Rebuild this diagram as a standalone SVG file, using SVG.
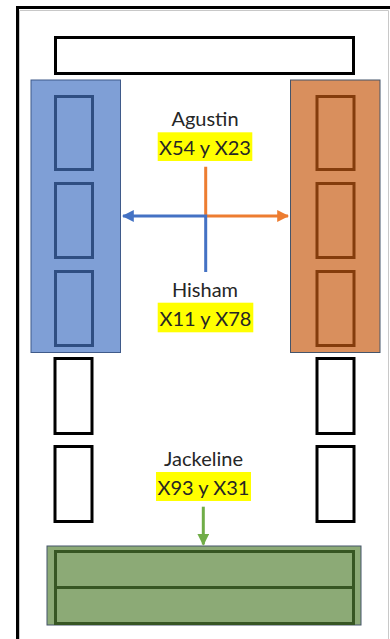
<svg xmlns="http://www.w3.org/2000/svg" width="390" height="639" viewBox="0 0 390 639">
<defs>
<style>
.blk{fill:#fff;stroke:#000;stroke-width:3}
.lbl{font-family:Lato,"Liberation Sans",Arial,sans-serif;font-size:20px;fill:#262626;text-anchor:middle}
.hl{fill:#ffff00}
.inb{fill:none;stroke:#2f4e82;stroke-width:3}
.ino{fill:none;stroke:#843c0c;stroke-width:3}
.ing{fill:none;stroke:#375623;stroke-width:3}
.conn{fill:none;stroke-width:3}
</style>
<marker id="ab" viewBox="0 0 10 10" refX="9" refY="5" markerWidth="4" markerHeight="4" orient="auto"><path d="M0,0L10,5L0,10z" fill="#4472c4"/></marker>
<marker id="ao" viewBox="0 0 10 10" refX="9" refY="5" markerWidth="4" markerHeight="4" orient="auto"><path d="M0,0L10,5L0,10z" fill="#ed7d31"/></marker>
<marker id="ag" viewBox="0 0 10 10" refX="9" refY="5" markerWidth="4" markerHeight="4" orient="auto"><path d="M0,0L10,5L0,10z" fill="#70ad47"/></marker>
</defs>
<rect width="390" height="639" fill="#fff"/>
<g id="frame">
<path d="M19.5,10.5H388.5V639M19.5,10.5V639" fill="none" stroke="#c8c8c8" stroke-width="1"/>
<path d="M17.5,639V7.5H390" fill="none" stroke="#000" stroke-width="3"/>
</g>
<g id="top-bar"><rect class="blk" x="55.5" y="37.5" width="298" height="36"/></g>
<g id="blue-block">
<rect x="31" y="80" width="89.5" height="272.5" fill="#7f9fd6" stroke="#3f5a8a" stroke-width="1"/>
<rect class="inb" x="55.5" y="96.5" width="37" height="73"/>
<rect class="inb" x="55.5" y="183.5" width="37" height="74"/>
<rect class="inb" x="55.5" y="271.5" width="37" height="74"/>
</g>
<g id="orange-block">
<rect x="290.5" y="80" width="89.5" height="272.5" fill="#d98f5d" stroke="#44546a" stroke-width="1"/>
<rect class="ino" x="317" y="96.5" width="37" height="73"/>
<rect class="ino" x="317" y="183.5" width="37" height="74"/>
<rect class="ino" x="317" y="271.5" width="37" height="74"/>
</g>
<g id="left-boxes">
<rect class="blk" x="55" y="358.5" width="37" height="75"/>
<rect class="blk" x="55" y="446.5" width="37" height="75"/>
</g>
<g id="right-boxes">
<rect class="blk" x="317" y="358.5" width="37" height="75"/>
<rect class="blk" x="317" y="446.5" width="37" height="75"/>
</g>
<g id="green-block">
<rect x="47" y="546" width="314" height="79" fill="#8caa76" stroke="#44546a" stroke-width="1"/>
<rect class="ing" x="55.5" y="551.5" width="298" height="36"/>
<rect class="ing" x="55.5" y="587.5" width="298" height="36"/>
</g>
<g id="label-agustin">
<text class="lbl" x="205" y="126">Agustin</text>
<rect class="hl" x="157.7" y="132.3" width="94.6" height="28.7"/>
<text class="lbl" x="205" y="155">X54 y X23</text>
</g>
<g id="label-hisham">
<text class="lbl" x="205" y="297">Hisham</text>
<rect class="hl" x="157.7" y="302.7" width="95.6" height="29.6"/>
<text class="lbl" x="205.5" y="326">X11 y X78</text>
</g>
<g id="label-jackeline">
<text class="lbl" x="203.5" y="466">Jackeline</text>
<rect class="hl" x="156" y="472" width="95" height="29"/>
<text class="lbl" x="203.5" y="495">X93 y X31</text>
</g>
<g id="connectors">
<path class="conn" stroke="#ed7d31" d="M205.7,166.7V216H288" marker-end="url(#ao)"/>
<path class="conn" stroke="#4472c4" d="M205.7,272V216H123" marker-end="url(#ab)"/>
<path class="conn" stroke="#70ad47" d="M203.3,506.7V544.5" marker-end="url(#ag)"/>
</g>
</svg>
